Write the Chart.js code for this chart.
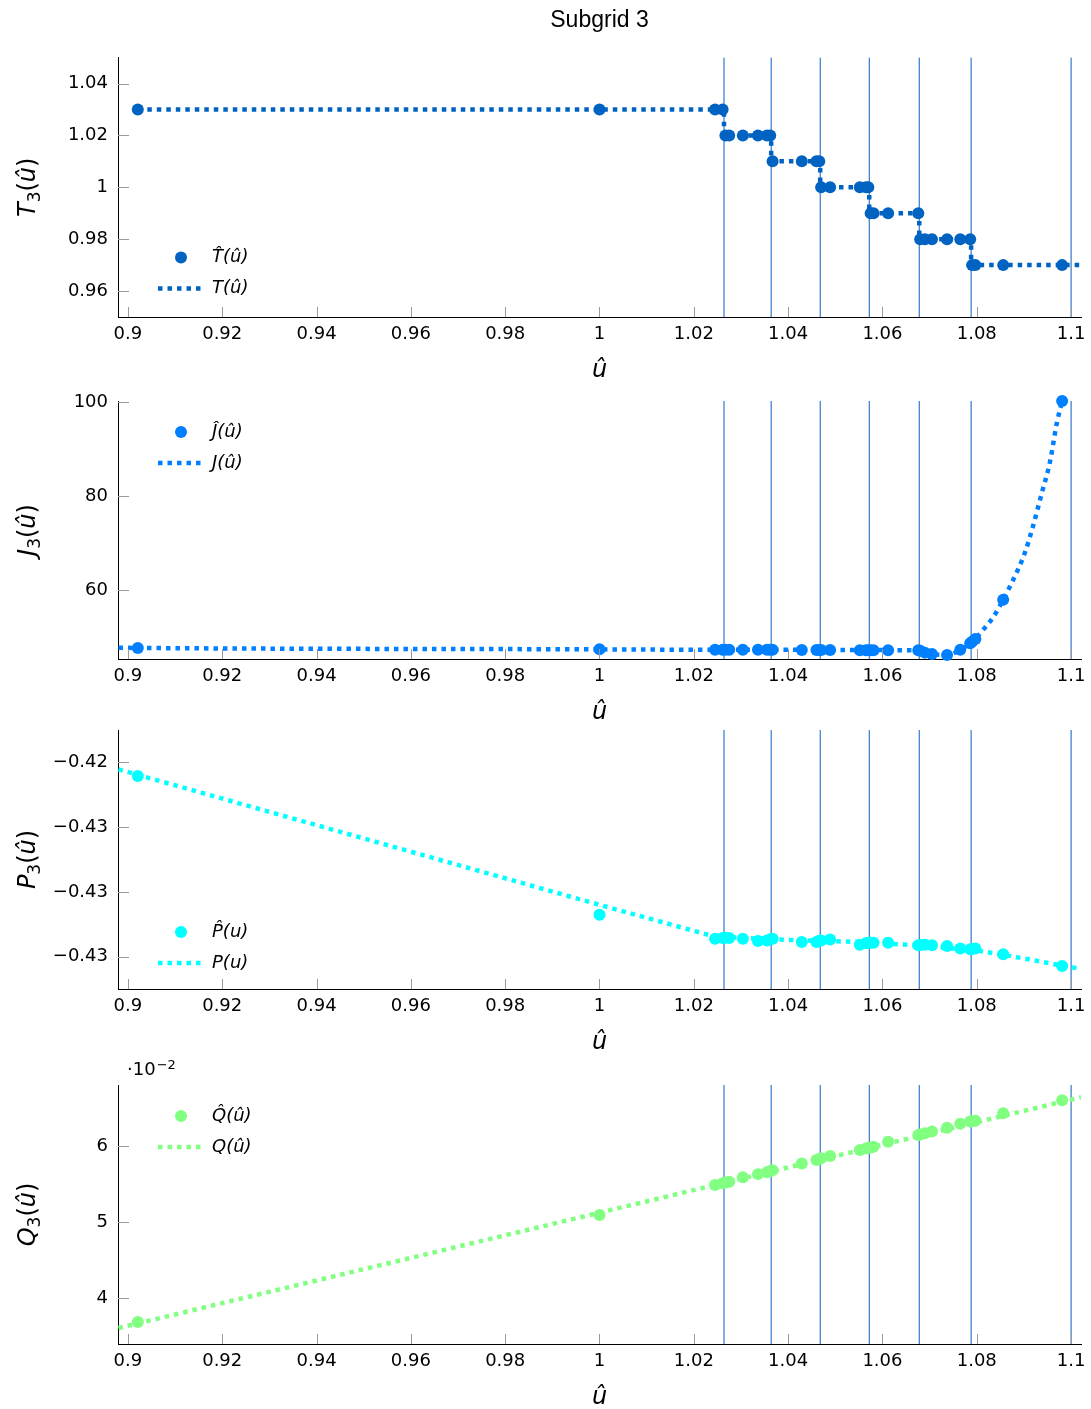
<!DOCTYPE html>
<html lang="en">
<head>
<meta charset="UTF-8">
<title>Subgrid 3</title>
<script src="https://cdn.jsdelivr.net/npm/chart.js@4.4.1/dist/chart.umd.min.js"></script>
<style>
  body { margin: 0; background: #fff; overflow: hidden; }
  #wrap { position: relative; width: 1091px; height: 1409px; }
  canvas { position: absolute; left: 0; }
</style>
</head>
<body>
<div id="wrap">
  <canvas id="c1" style="top:0px" width="1091" height="385"></canvas>
  <canvas id="c2" style="top:390px" width="1091" height="337"></canvas>
  <canvas id="c3" style="top:720px" width="1091" height="337"></canvas>
  <canvas id="c4" style="top:1050px" width="1091" height="362"></canvas>
</div>
<script>
// sample points (u-hat), shared by all four panels
const uHat = [0.9021, 1.0, 1.0245, 1.0261, 1.0267, 1.0275, 1.0304, 1.0336, 1.0355, 1.0362,
  1.0367, 1.0429, 1.0460, 1.0466, 1.0470, 1.0489, 1.0552, 1.0565, 1.0570, 1.0575,
  1.0581, 1.0612, 1.0676, 1.0680, 1.0690, 1.0705, 1.0737, 1.0765, 1.0786, 1.0790,
  1.0797, 1.0856, 1.0981];

const tHat = [1.03, 1.03, 1.03, 1.03, 1.02, 1.02, 1.02, 1.02, 1.02, 1.02,
  1.01, 1.01, 1.01, 1.01, 1.00, 1.00, 1.00, 1.00, 1.00, 0.99,
  0.99, 0.99, 0.99, 0.98, 0.98, 0.98, 0.98, 0.98, 0.98, 0.97,
  0.97, 0.97, 0.97];

const jHat = [47.6, 47.3, 47.2, 47.2, 47.2, 47.2, 47.2, 47.2, 47.2, 47.2,
  47.2, 47.15, 47.15, 47.15, 47.15, 47.15, 47.1, 47.1, 47.1, 47.1,
  47.1, 47.1, 47.1, 47.0, 46.6, 46.3, 46.1, 47.2, 48.6, 48.9,
  49.5, 57.9, 100.3];

const pHat = [-0.42105, -0.43177, -0.43362, -0.43356, -0.43354, -0.43356, -0.43362, -0.43379, -0.43375, -0.43365,
  -0.43362, -0.43387, -0.43387, -0.43377, -0.43375, -0.43367, -0.43408, -0.43396, -0.43392, -0.43392,
  -0.43392, -0.43392, -0.43413, -0.43410, -0.43408, -0.43413, -0.43418, -0.43438, -0.43444, -0.43441,
  -0.43438, -0.43482, -0.43572];

const qHat = [0.0369, 0.05094, 0.05488, 0.0551, 0.0552, 0.0553, 0.0559, 0.0563, 0.05655, 0.0567,
  0.0568, 0.0577, 0.05816, 0.0583, 0.0584, 0.05869, 0.05948, 0.05965, 0.05975, 0.0598,
  0.0599, 0.06056, 0.06144, 0.0615, 0.06166, 0.0619, 0.0624, 0.0629, 0.0632, 0.06325,
  0.0633, 0.0643, 0.0660];

// continuous curves
const tLineU = [0.9021, 1.0264, 1.0264, 1.0364, 1.0364, 1.0468, 1.0468, 1.0572, 1.0572, 1.0678, 1.0678, 1.0788, 1.0788, 1.1021];
const tLineV = [1.03, 1.03, 1.02, 1.02, 1.01, 1.01, 1.00, 1.00, 0.99, 0.99, 0.98, 0.98, 0.97, 0.97];

const jLineU = [0.898, 0.9021, 1.0, 1.0245, 1.0676, 1.0690, 1.0705, 1.0737, 1.0765, 1.0786, 1.0797,
  1.0813, 1.0835, 1.0856, 1.0877, 1.0902, 1.0919, 1.0938, 1.0955, 1.0970, 1.0981];
const jLineV = [47.65, 47.6, 47.3, 47.2, 47.1, 46.6, 46.3, 46.1, 47.2, 48.6, 49.6,
  51.4, 54.2, 57.9, 62.1, 67.9, 73.5, 80.7, 87.2, 95.7, 100.3];

const pLineU = [0.898, 1.0, 1.0245, 1.0429, 1.0552, 1.0676, 1.0797, 1.0856, 1.0981, 1.1021];
const pLineV = [-0.42054, -0.4310, -0.43346, -0.43375, -0.43387, -0.43413, -0.43452, -0.43485, -0.43569, -0.43595];

const qLineU = [0.898, 1.0, 1.1021];
const qLineV = [0.0361, 0.05124, 0.0664];

// split lines
const splitU = [1.0264, 1.0364, 1.0468, 1.0572, 1.0678, 1.0788, 1.1];

// ticks
const xTicks = [0.9, 0.92, 0.94, 0.96, 0.98, 1.0, 1.02, 1.04, 1.06, 1.08, 1.1];
const xTickLabels = ['0.9', '0.92', '0.94', '0.96', '0.98', '1', '1.02', '1.04', '1.06', '1.08', '1.1'];
const tTicks = [0.96, 0.98, 1.0, 1.02, 1.04];
const tTickLabels = ['0.96', '0.98', '1', '1.02', '1.04'];
const jTicks = [60, 80, 100];
const jTickLabels = ['60', '80', '100'];
const pTicks = [-0.435, -0.43, -0.425, -0.42];
const pTickLabels = ['\u22120.43', '\u22120.43', '\u22120.43', '\u22120.42'];
const qTicks = [0.04, 0.05, 0.06];
const qTickLabels = ['4', '5', '6'];

const colT = '#0063c1';
const colJ = '#0080ff';
const colP = '#00ffff';
const colQ = '#80ff80';
const colSplit = '#0a5fc0';

const tickFont = { family: 'DejaVu Sans', size: 18 };
const mathFont = { family: 'DejaVu Sans', size: 24, style: 'italic' };

function pts(xs, ys) {
  return xs.map((x, i) => ({ x: x, y: ys[i] }));
}

function dotSet(label, xs, ys, color) {
  return {
    label: label, data: pts(xs, ys), showLine: false,
    pointRadius: 6, pointHoverRadius: 6, pointBorderWidth: 0,
    pointBackgroundColor: color, borderColor: color, backgroundColor: color, clip: false
  };
}

function lineSet(label, xs, ys, color, smooth) {
  return {
    label: label, data: pts(xs, ys), showLine: true, pointRadius: 0, pointHoverRadius: 0,
    borderColor: color, backgroundColor: color, borderWidth: 4.5, borderDash: [4.5, 5],
    borderCapStyle: 'butt', tension: 0, fill: false,
    cubicInterpolationMode: smooth ? 'monotone' : 'default'
  };
}

function xAxis() {
  return {
    type: 'linear', min: 0.8979, max: 1.1021,
    afterBuildTicks: s => { s.ticks = xTicks.map(v => ({ value: v })); },
    ticks: { callback: (v, i) => xTickLabels[i], font: tickFont, color: '#000', padding: 7, maxRotation: 0, autoSkip: false },
    grid: { display: false, drawTicks: false },
    border: { display: true, color: '#000', width: 1 },
    title: { display: true, text: 'û', font: mathFont, color: '#000', padding: { top: 0, bottom: 0 } },
    afterFit: s => { s.height = 68; s.paddingLeft = 0; s.paddingRight = 0; }
  };
}

function yAxis(min, max, ticks, labels, title) {
  return {
    type: 'linear', min: min, max: max,
    afterBuildTicks: s => { s.ticks = ticks.map(v => ({ value: v })); },
    ticks: { callback: (v, i) => labels[i], font: tickFont, color: '#000', padding: 10, autoSkip: false },
    grid: { display: false, drawTicks: false },
    border: { display: true, color: '#000', width: 1 },
    title: { display: false, text: title.join('') },
    afterFit: s => { s.width = 118; s.paddingTop = 0; s.paddingBottom = 0; }
  };
}

// y axis title with italic letter, upright subscript
const yTitle = {
  id: 'yTitle',
  afterDraw(chart, args, opts) {
    const { ctx, chartArea: a } = chart;
    const parts = [
      { t: opts.text[0], f: 'italic 24px "DejaVu Sans"', dy: 0 },
      { t: opts.text[1], f: '17px "DejaVu Sans"', dy: 5 },
      { t: '(', f: '24px "DejaVu Sans"', dy: 0 },
      { t: 'û', f: 'italic 24px "DejaVu Sans"', dy: 0 },
      { t: ')', f: '24px "DejaVu Sans"', dy: 0 }
    ];
    ctx.save();
    ctx.fillStyle = '#000';
    ctx.textBaseline = 'alphabetic';
    let total = 0;
    parts.forEach(p => { ctx.font = p.f; p.w = ctx.measureText(p.t).width; total += p.w; });
    ctx.translate(35, (a.top + a.bottom) / 2);
    ctx.rotate(-Math.PI / 2);
    let x = -total / 2;
    parts.forEach(p => { ctx.font = p.f; ctx.fillText(p.t, x, p.dy); x += p.w; });
    ctx.restore();
  }
};

const splitLines = {
  id: 'splitLines',
  beforeDatasetsDraw(chart) {
    const { ctx, chartArea: a, scales: { x } } = chart;
    ctx.save();
    ctx.strokeStyle = colSplit;
    ctx.lineWidth = 1;
    ctx.beginPath();
    splitU.forEach(u => {
      const px = x.getPixelForValue(u);
      ctx.moveTo(px, a.top);
      ctx.lineTo(px, a.bottom);
    });
    ctx.stroke();
    ctx.restore();
  }
};

const innerTicks = {
  id: 'innerTicks',
  afterDraw(chart) {
    const { ctx, chartArea: a, scales: { x, y } } = chart;
    ctx.save();
    ctx.strokeStyle = '#9a9a9a';
    ctx.lineWidth = 1;
    ctx.beginPath();
    x.ticks.forEach(t => {
      const px = Math.round(x.getPixelForValue(t.value)) + 0.5;
      ctx.moveTo(px, a.bottom);
      ctx.lineTo(px, a.bottom - 10);
    });
    y.ticks.forEach(t => {
      const py = Math.round(y.getPixelForValue(t.value)) + 0.5;
      ctx.moveTo(a.left, py);
      ctx.lineTo(a.left + 11, py);
    });
    ctx.stroke();
    ctx.restore();
  }
};

const boxLegend = {
  id: 'boxLegend',
  afterDatasetsDraw(chart, args, opts) {
    const { ctx, chartArea: a } = chart;
    ctx.save();
    ctx.font = 'italic 18px "DejaVu Sans"';
    ctx.textBaseline = 'middle';
    chart.data.datasets.forEach((d, i) => {
      const y = a.top + opts.top + i * 31;
      if (d.showLine) {
        ctx.strokeStyle = d.borderColor;
        ctx.lineWidth = d.borderWidth;
        ctx.setLineDash(d.borderDash);
        ctx.beginPath();
        ctx.moveTo(a.left + 40, y);
        ctx.lineTo(a.left + 86, y);
        ctx.stroke();
        ctx.setLineDash([]);
      } else {
        ctx.fillStyle = d.pointBackgroundColor;
        ctx.beginPath();
        ctx.arc(a.left + 63, y, 6, 0, Math.PI * 2);
        ctx.fill();
      }
      ctx.fillStyle = '#000';
      ctx.fillText(d.label, a.left + 94, y);
    });
    ctx.restore();
  }
};

const expLabel = {
  id: 'expLabel',
  afterDraw(chart, args, opts) {
    if (!opts.show) return;
    const { ctx, chartArea: a } = chart;
    ctx.save();
    ctx.fillStyle = '#000';
    ctx.textBaseline = 'alphabetic';
    ctx.font = '18px "DejaVu Sans"';
    ctx.fillText('·10', a.left + 9, a.top - 10);
    const w = ctx.measureText('·10').width;
    ctx.font = '13px "DejaVu Sans"';
    ctx.fillText('\u22122', a.left + 9 + w + 1, a.top - 16);
    ctx.restore();
  }
};

function makeChart(id, datasets, yCfg, opts) {
  return new Chart(document.getElementById(id), {
    type: 'scatter',
    data: { datasets: datasets },
    options: {
      responsive: false,
      animation: false,
      events: [],
      layout: { padding: { left: 0, right: 10, top: opts.padTop, bottom: 0 } },
      scales: { x: xAxis(), y: yCfg },
      plugins: {
        legend: { display: false },
        tooltip: { enabled: false },
        title: opts.title ? {
          display: true, text: opts.title, fullSize: false, color: '#000',
          font: { family: 'Liberation Sans', size: 23, weight: 'normal' },
          padding: { top: 7, bottom: 23 }
        } : { display: false },
        boxLegend: { top: opts.legendTop },
        expLabel: { show: !!opts.exp },
        yTitle: { text: opts.yTitle }
      }
    },
    plugins: [splitLines, innerTicks, boxLegend, expLabel, yTitle]
  });
}

makeChart('c1', [
  dotSet('T̂(û)', uHat, tHat, colT),
  lineSet('T(û)', tLineU, tLineV, colT, false)
], yAxis(0.95, 1.05, tTicks, tTickLabels, ['T', '3']),
  { padTop: 0, title: 'Subgrid 3', legendTop: 200, yTitle: ['T', '3'] });

makeChart('c2', [
  dotSet('Ĵ(û)', uHat, jHat, colJ),
  lineSet('J(û)', jLineU, jLineV, colJ, true)
], yAxis(45.24, 100.3, jTicks, jTickLabels, ['J', '3']),
  { padTop: 11, legendTop: 31, yTitle: ['J', '3'] });

makeChart('c3', [
  dotSet('P̂(u)', uHat, pHat, colP),
  lineSet('P(u)', pLineU, pLineV, colP, false)
], yAxis(-0.4375, -0.4175, pTicks, pTickLabels, ['P', '3']),
  { padTop: 10, legendTop: 202, yTitle: ['P', '3'] });

makeChart('c4', [
  dotSet('Q̂(û)', uHat, qHat, colQ),
  lineSet('Q(û)', qLineU, qLineV, colQ, false)
], yAxis(0.0340, 0.0680, qTicks, qTickLabels, ['Q', '3']),
  { padTop: 35, legendTop: 31, exp: true, yTitle: ['Q', '3'] });
</script>
</body>
</html>
